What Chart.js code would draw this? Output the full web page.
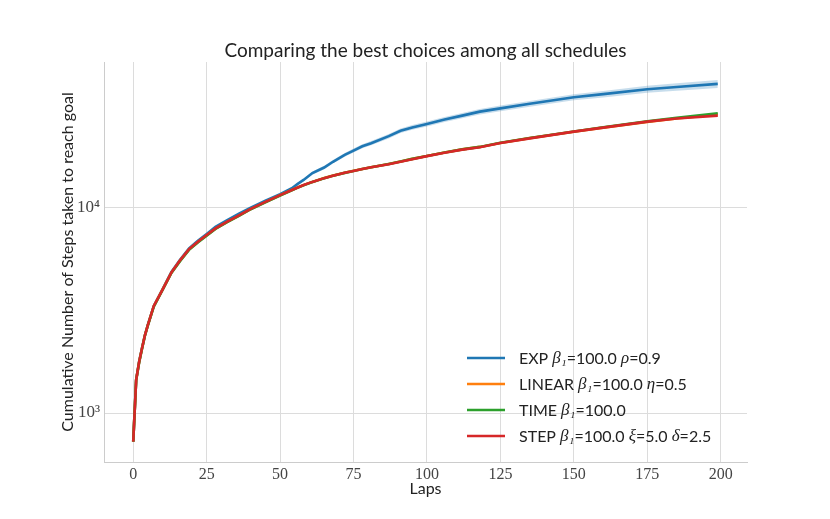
<!DOCTYPE html>
<html>
<head>
<meta charset="utf-8">
<script src="https://cdn.jsdelivr.net/npm/chart.js@4.4.0/dist/chart.umd.min.js"></script>
<style>
  html, body { margin: 0; padding: 0; background: #fff; }
  #wrap { width: 830px; height: 519px; position: relative; }
</style>
</head>
<body>
<div id="wrap"><canvas id="stepsChart"></canvas></div>
<script>
const laps = [0,1,2,3,4,5,7,10,13,16,19,22,25,28,32,36,40,45,50,54,56,58,61,65,68,72,75,78,81,87,91,95,100,106,112,118,125,135,150,160,175,185,199];

const expSteps = [725,1450,1780,2080,2400,2700,3330,4020,4870,5600,6350,6920,7470,8080,8720,9380,10030,10850,11680,12480,13100,13700,14800,15750,16800,18150,19050,20000,20700,22400,23800,24700,25700,27000,28200,29500,30600,32200,34670,35900,37930,38900,40270];
const expSpread = [0,0,0,0,0,0,0,0,0,0,0,0,0,0,0,0,0,0,0,80,150,220,260,300,330,380,430,470,500,560,610,650,720,780,850,920,980,1050,1180,1300,1500,1650,1850];

const linearSteps = [725,1450,1770,2070,2400,2690,3320,4010,4840,5550,6280,6830,7360,7930,8550,9180,9880,10680,11530,12230,12580,12920,13400,14000,14380,14850,15170,15500,15800,16400,16850,17350,17920,18650,19300,19850,20750,21900,23550,24650,26300,27300,28600];
const timeSteps = [725,1450,1760,2060,2390,2680,3300,3980,4820,5520,6250,6790,7320,7900,8520,9160,9860,10650,11500,12200,12560,12900,13380,13970,14360,14830,15150,15480,15790,16390,16850,17350,17920,18650,19300,19850,20800,21950,23600,24750,26450,27500,28950];
const stepSteps = [725,1450,1775,2070,2400,2690,3330,4000,4850,5570,6300,6850,7380,7950,8570,9200,9900,10700,11550,12230,12580,12930,13400,13980,14370,14850,15150,15480,15780,16350,16800,17300,17900,18600,19250,19770,20750,21850,23560,24650,26360,27300,28200];

const seriesLabels = ['EXP β₁=100.0 ρ=0.9', 'LINEAR β₁=100.0 η=0.5', 'TIME β₁=100.0', 'STEP β₁=100.0 ξ=5.0 δ=2.5'];
const seriesColors = ['#1f77b4', '#ff7f0e', '#2ca02c', '#d62728'];
const xTicks = [0,25,50,75,100,125,150,175,200];
const yTicks = [1000, 10000];

const pts = vals => laps.map((l, i) => ({x: l, y: vals[i]}));
const expUpper = expSteps.map((v, i) => v + expSpread[i]);
const expLower = expSteps.map((v, i) => v - expSpread[i]);

const sans = 'Lato, "DejaVu Sans", sans-serif';
const serif = '"Liberation Serif", "DejaVu Serif", serif';

// title, y axis title and the legend (inside the plot, bottom right)
const decor = {
  id: 'decor',
  afterDraw(chart) {
    const c = chart.ctx, area = chart.chartArea;
    c.save();
    c.fillStyle = '#222';
    c.font = '19px ' + sans;
    c.textAlign = 'center';
    c.textBaseline = 'middle';
    c.fillText('Comparing the best choices among all schedules', (area.left + area.right) / 2, 51);

    c.save();
    c.translate(68, (area.top + area.bottom) / 2);
    c.rotate(-Math.PI / 2);
    c.font = '16px ' + sans;
    c.fillText('Cumulative Number of Steps taken to reach goal', 0, 0);
    c.restore();

    c.textAlign = 'left';
    const rowY = [358, 384, 410, 436];
    seriesLabels.forEach((lab, i) => {
      const y = rowY[i];
      c.strokeStyle = seriesColors[i];
      c.lineWidth = 2.6;
      c.beginPath(); c.moveTo(467, y); c.lineTo(505, y); c.stroke();
      let x = 519;
      for (const ch of lab) {
        const greek = /[α-ω₁]/.test(ch);
        c.font = greek ? 'italic 17px ' + serif : '16px ' + sans;
        c.fillStyle = '#222';
        c.fillText(ch, x, y + 1);
        x += c.measureText(ch).width;
      }
    });
    c.restore();
  }
};

const ctx = document.getElementById('stepsChart').getContext('2d');
const line = (label, vals, color, order) => ({
  label, data: pts(vals), borderColor: color, backgroundColor: color, order,
  borderWidth: 2.6, pointRadius: 0, fill: false, tension: 0
});

new Chart(ctx, {
  type: 'line',
  data: {
    datasets: [
      { label: 'band-up', data: pts(expUpper), borderWidth: 0, pointRadius: 0, fill: '+1', order: 5, backgroundColor: 'rgba(31,119,180,0.25)', borderColor: 'rgba(0,0,0,0)' },
      { label: 'band-low', data: pts(expLower), borderWidth: 0, pointRadius: 0, fill: false, order: 6, borderColor: 'rgba(0,0,0,0)' },
      line(seriesLabels[0], expSteps, seriesColors[0], 4),
      line(seriesLabels[1], linearSteps, seriesColors[1], 3),
      line(seriesLabels[2], timeSteps, seriesColors[2], 2),
      line(seriesLabels[3], stepSteps, seriesColors[3], 1)
    ]
  },
  options: {
    responsive: true,
    maintainAspectRatio: false,
    animation: false,
    layout: { padding: { top: 62, right: 83, left: 0, bottom: 0 } },
    plugins: { legend: { display: false }, tooltip: { enabled: false }, title: { display: false } },
    scales: {
      x: {
        type: 'linear', min: -9.95, max: 208.95,
        afterBuildTicks: s => { s.ticks = xTicks.map(v => ({value: v})); },
        afterFit: s => { s.height = 57; },
        grid: { color: '#dcdcdc', lineWidth: 1, drawTicks: false },
        border: { color: '#cccccc', width: 1 },
        ticks: { color: '#444', font: { family: serif, size: 16 }, padding: 3, maxRotation: 0 },
        title: { display: true, text: 'Laps', color: '#222', font: { family: sans, size: 16 }, padding: { top: 0, bottom: 21 } }
      },
      y: {
        type: 'logarithmic', min: 577, max: 51500,
        afterBuildTicks: s => { s.ticks = yTicks.map(v => ({value: v})); },
        afterFit: s => { s.width = 104; },
        grid: { color: '#dcdcdc', lineWidth: 1, drawTicks: false },
        border: { color: '#cccccc', width: 1 },
        ticks: {
          color: '#444', font: { family: serif, size: 17 }, padding: 4,
          callback: v => v === 1000 ? '10³' : (v === 10000 ? '10⁴' : '')
        }
      }
    }
  },
  plugins: [decor]
});
</script>
</body>
</html>
